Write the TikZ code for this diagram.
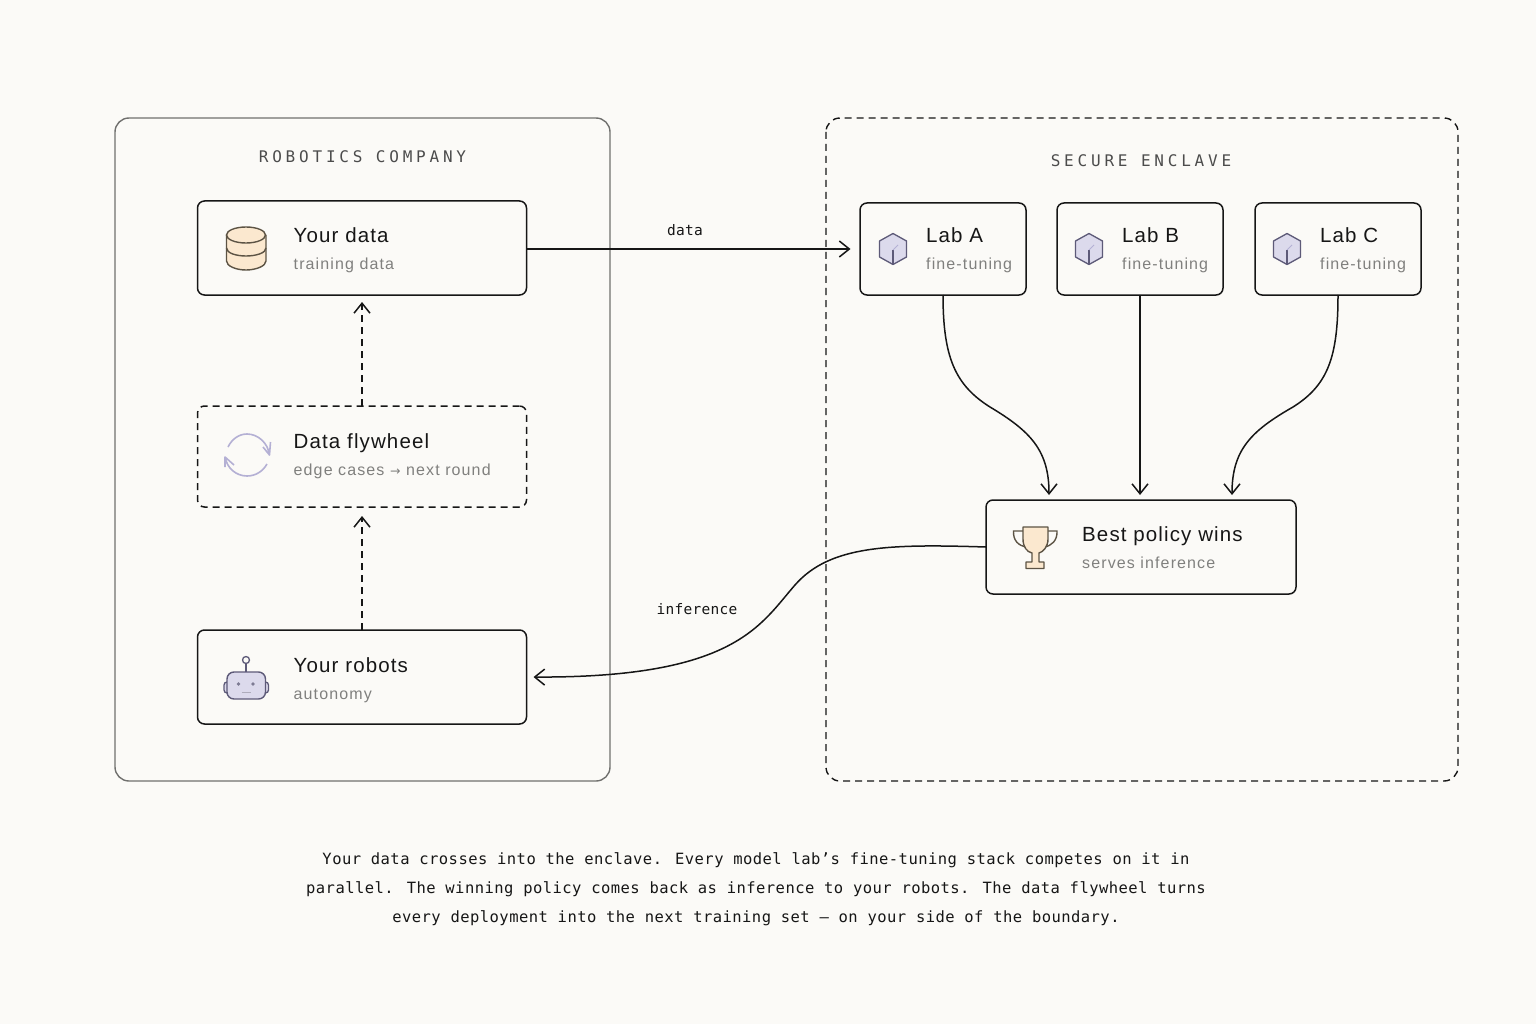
\documentclass[tikz,border=0pt]{standalone}
\usepackage{fontspec}
\usetikzlibrary{arrows.meta, positioning, calc}
\setmainfont{Liberation Sans}
\newfontfamily\titlefont[LetterSpace=5.5]{Liberation Sans}
\newfontfamily\subfont[LetterSpace=7]{Liberation Sans}
\newfontfamily\symbolfont{DejaVu Sans}
\newfontfamily\codefont[LetterSpace=1.9]{DejaVu Sans Mono}
\newfontfamily\notefont[LetterSpace=2.9]{DejaVu Sans Mono}
\newfontfamily\capsfont[LetterSpace=23.7]{DejaVu Sans Mono}
\definecolor{paper}{RGB}{251,250,247}
\definecolor{ink}{RGB}{22,22,22}
\definecolor{subgray}{RGB}{128,128,126}
\definecolor{wallgray}{RGB}{112,112,110}
\definecolor{peach}{RGB}{251,232,207}
\definecolor{peachline}{RGB}{92,83,68}
\definecolor{lilac}{RGB}{220,218,236}
\definecolor{lilacline}{RGB}{93,90,120}
\definecolor{lilacsoft}{RGB}{180,176,212}
\tikzset{
  card/.style={rectangle, rounded corners=7pt, draw=ink, line width=1.5pt,
               fill=paper, outer sep=0pt, minimum height=94pt, minimum width=329pt},
  labcard/.style={card, minimum width=166pt, minimum height=92pt},
  wall/.style={rounded corners=14pt, line width=1.4pt},
  dashline/.style={dash pattern=on 7pt off 5pt},
  arrow/.style={-{Straight Barb[length=10pt, width=16pt]}, line width=1.5pt, color=ink},
  title/.style={anchor=base west, inner sep=0pt, text=ink,
                font=\titlefont\fontsize{20.5}{24}\selectfont},
  subtitle/.style={anchor=base west, inner sep=0pt, text=subgray,
                   font=\subfont\fontsize{16}{20}\selectfont},
  heading/.style={inner sep=0pt, text=black!70, font=\capsfont\fontsize{16}{20}\selectfont},
  edgelabel/.style={inner sep=0pt, text=ink, font=\codefont\fontsize{14.5}{20}\selectfont},
  cube/.pic={
    \draw[fill=lilac, draw=lilacline, line width=1.3pt, line join=round]
      (0,-15.5) -- (13.5,-8) -- (13.5,8) -- (0,15.5) -- (-13.5,8) -- (-13.5,-8) -- cycle;
    \draw[draw=lilacline, line width=1.3pt] (0,15.5) -- (0,1);
    \draw[draw=lilacsoft, line width=1pt] (0,1) -- (5,-4);
  },
}
\begin{document}
\begin{tikzpicture}[x=1pt, y=-1pt]
  \useasboundingbox (0,0) rectangle (1536,1024);
  \fill[paper] (0,0) rectangle (1536,1024);

  % Trust boundaries
  \draw[wall, draw=wallgray] (115,118) rectangle (610,781);
  \draw[wall, draw=ink, dashline] (826,118) rectangle (1458,781);
  \node[heading] (companyHead) at (362.5,156.5) {ROBOTICS COMPANY};
  \node[heading] (enclaveHead) at (1141,160.5) {SECURE ENCLAVE};

  % Customer side
  \node[card] (data) at (362,248) {};
  \node[card, dashline, minimum height=101pt] (flywheel) at (362,456.5) {};
  \node[card] (robots) at (362,677) {};
  \foreach \nm/\y/\head/\sub in {data/248/Your data/training data,
      flywheel/453/Data flywheel/edge cases {\symbolfont\fontsize{12.5}{20}\selectfont\textrightarrow}\ next round,
      robots/677/Your robots/autonomy}{
    \node[title] (\nm Title) at (293.5,\y-5) {\head};
    \node[subtitle] (\nm Sub) at (293.5,\y+22) {\sub};
  }

  % Enclave side
  \node[labcard] (labA) at (943,249) {};
  \node[labcard, right=31pt of labA] (labB) {};
  \node[labcard, right=32pt of labB] (labC) {};
  \foreach \lab/\name/\off in {labA/Lab A/0, labB/Lab B/-1, labC/Lab C/-1}{
    \node[title] (\lab Title) at ($(\lab.center)+(-17+\off,-6)$) {\name};
    \node[subtitle] (\lab Sub) at ($(\lab.center)+(-17+\off,21)$) {fine-tuning};
    \path ($(\lab.center)+(-50+\off,0)$) pic {cube};
  }
  \node[card, minimum width=310pt] (best) at (1141,547) {};
  \node[title] (bestTitle) at (1082,541.5) {Best policy wins};
  \node[subtitle] (bestSub) at (1082,568.5) {serves inference};

  % Database icon
  \draw[fill=peach, draw=peachline, line width=1.4pt]
    (226.5,235) -- (226.5,261) .. controls (226.5,266) and (236,270) .. (246,270)
    .. controls (256,270) and (266,266) .. (266,261) -- (266,235);
  \draw[fill=peach, draw=peachline, line width=1.4pt] (246,235) ellipse [x radius=19.5, y radius=8];
  \draw[draw=peachline, line width=1.4pt]
    (226.5,248) .. controls (226.5,253) and (236,256) .. (246,256)
    .. controls (256,256) and (266,253) .. (266,248);

  % Flywheel icon
  \draw[draw=lilacsoft, line width=1.6pt, line join=round]
    (228,447) .. controls (232,439) and (239,434) .. (247,434)
    .. controls (258,434) and (268,443) .. (269.5,455)
    (263,447) -- (269.5,455) -- (270.5,442);
  \draw[draw=lilacsoft, line width=1.6pt, line join=round]
    (267,464) .. controls (263,471) and (256,476) .. (247,476)
    .. controls (236,476) and (227,468) .. (225,457)
    (225,467) -- (225,457) -- (234,465);

  % Robot icon
  \draw[draw=lilacline, line width=1.3pt] (246,672) -- (246,663.5);
  \draw[draw=lilacline, line width=1.3pt, fill=paper] (246,660) circle (3.5);
  \draw[draw=lilacline, line width=1.3pt, fill=lilac, rounded corners=3pt] (224,682) rectangle (230,693);
  \draw[draw=lilacline, line width=1.3pt, fill=lilac, rounded corners=3pt] (262,682) rectangle (268.5,693);
  \draw[draw=lilacline, line width=1.4pt, fill=lilac, rounded corners=7pt] (227,672) rectangle (265.5,699);
  \fill[lilacline!80] (238.5,684) circle (1.9) (253,684) circle (1.9);
  \draw[draw=lilacline!50, line width=1pt] (241.5,692) -- (250.5,692);

  % Trophy icon
  \draw[draw=peachline, line width=1.4pt]
    (1023,531) -- (1013.5,531) .. controls (1013,540) and (1018,546) .. (1027,547);
  \draw[draw=peachline, line width=1.4pt]
    (1048,531) -- (1057,531) .. controls (1057.5,540) and (1052,546) .. (1044,547);
  \draw[fill=peach, draw=peachline, line width=1.4pt, line join=round]
    (1023,527) -- (1048,527) -- (1048,539) .. controls (1048,547) and (1043,552) .. (1039,553)
    -- (1039,562) -- (1044,562) -- (1044,568.5) -- (1026,568.5) -- (1026,562) -- (1032,562)
    -- (1032,553) .. controls (1027,552) and (1023,547) .. (1023,539) -- cycle;

  % Flow between the boxes
  \draw[arrow, dashline, shorten >=7pt] (flywheel.north) -- (data.south);
  \draw[arrow, dashline, shorten >=9pt] (robots.north) -- (flywheel.south);
  \draw[arrow, shorten >=9.5pt] (labA.west -| data.east) -- (labA.west)
    node[edgelabel, pos=0.475, above=13pt] (dataLabel) {data};
  \draw[arrow, shorten >=5pt] (labA.south) .. controls +(0,62) and (955,385) .. (990,407)
    .. controls (1030,431) and (1049,450) .. ([xshift=-92pt]best.north);
  \draw[arrow, shorten >=5pt] (labB.south) -- (labB.south |- best.north);
  \draw[arrow, shorten >=5pt] (labC.south) .. controls +(0,62) and (1328,385) .. (1293,407)
    .. controls (1251,431) and (1232,450) .. ([xshift=91pt]best.north);
  \draw[arrow, shorten >=7pt] (best.west) .. controls (890,544) and (830,545) .. (795,585)
    .. controls (760,625) and (735,678) .. (robots.east);
  \node[edgelabel] (inferenceLabel) at (697,609) {inference};

  % Caption
  \node[inner sep=0pt, align=center, text=ink, font=\notefont\fontsize{15.5}{29}\selectfont]
    (caption) at (756,889) {Your data crosses into the enclave. Every model lab’s fine-tuning stack competes on it in\\
    parallel. The winning policy comes back as inference to your robots. The data flywheel turns\\
    every deployment into the next training set — on your side of the boundary.};
\end{tikzpicture}
\end{document}
